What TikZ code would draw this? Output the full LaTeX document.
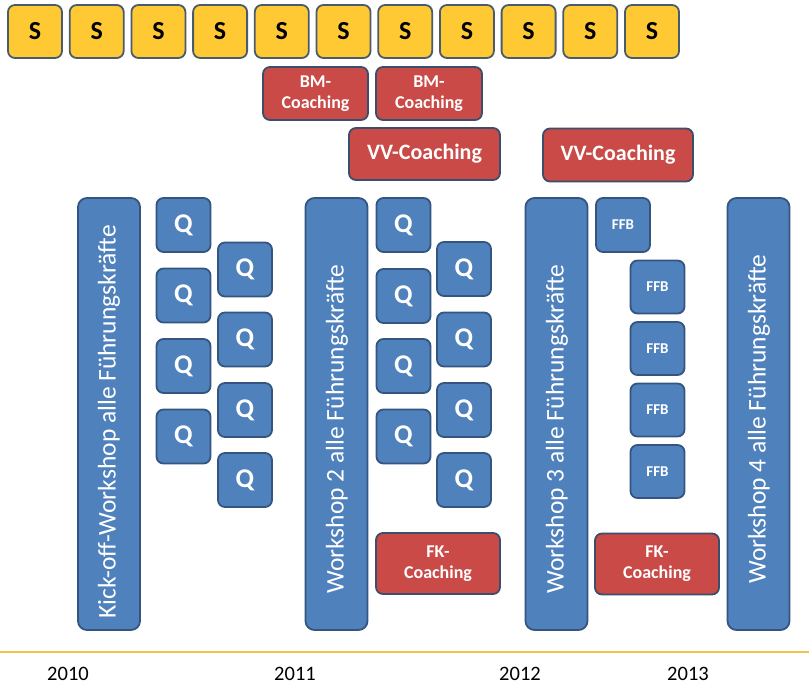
\documentclass[tikz,border=0pt]{standalone}
\usepackage{fontspec}
\setmainfont{Carlito}
\definecolor{sfill}{HTML}{FFC933}
\definecolor{sline}{HTML}{4A5B6C}
\definecolor{bfill}{HTML}{4F81BD}
\definecolor{bline}{HTML}{34557F}
\definecolor{rfill}{HTML}{C94A47}
\definecolor{rline}{HTML}{3B4E6B}
\definecolor{axis}{HTML}{F0C24E}
\tikzset{
  box/.style={rounded corners=7pt, line width=1.8pt, inner sep=0pt, align=center},
  sbox/.style={box, fill=sfill, draw=sline, minimum width=54pt, minimum height=53pt,
    font=\fontsize{26}{28}\selectfont\bfseries, text=black},
  qbox/.style={box, fill=bfill, draw=bline, minimum width=54pt, minimum height=54pt,
    font=\fontsize{27}{29}\selectfont\bfseries, text=white},
  fbox/.style={box, fill=bfill, draw=bline, minimum width=54pt, minimum height=54pt,
    font=\fontsize{15}{17}\selectfont\bfseries, text=white},
  wbox/.style={box, rounded corners=9pt, fill=bfill, draw=bline, minimum width=62pt, minimum height=432pt},
  wtext/.style={rotate=90, font=\fontsize{25.5}{27}\selectfont, text=white, inner sep=0pt},
  rbox/.style={box, fill=rfill, draw=rline, text=white,
    font=\fontsize{18}{21}\selectfont\bfseries},
  year/.style={font=\fontsize{20.5}{22}\selectfont, text=black, inner sep=0pt}
}
\begin{document}
\begin{tikzpicture}[x=1pt,y=-1pt]
\useasboundingbox (0,0) rectangle (809,685);
% S row
\foreach \i in {1,...,11}{
  \node[sbox] (s\i) at ({35+(\i-1)*61.7},31.5) {S};
}
% BM coaching
\node[rbox, minimum width=105pt, minimum height=53pt] (bm1) at (315.5,93.5) {BM-\\Coaching};
\node[rbox, minimum width=106pt, minimum height=53pt] (bm2) at (429,93.5) {BM-\\Coaching};
% VV coaching
\node[rbox, minimum width=151pt, minimum height=52pt, font=\fontsize{22}{24}\selectfont\bfseries] (vv1) at (424.5,154) {VV-Coaching};
\node[rbox, minimum width=150pt, minimum height=53pt, font=\fontsize{22}{24}\selectfont\bfseries] (vv2) at (618,155) {VV-Coaching};
% Workshops
\node[wbox] (w1) at (109,414) {};
\node[wtext] (w1t) at (109,422) {Kick-off-Workshop alle Führungskräfte};
\node[wbox] (w2) at (336.5,414) {};
\node[wtext] (w2t) at (337,429) {Workshop 2 alle Führungskräfte};
\node[wbox] (w3) at (556.5,414) {};
\node[wtext] (w3t) at (557,429) {Workshop 3 alle Führungskräfte};
\node[wbox] (w4) at (758.5,414) {};
\node[wtext] (w4t) at (759,419) {Workshop 4 alle Führungskräfte};
% Q group 1
\foreach \j/\y in {1/225,2/295.5,3/366,4/436.5}{
  \node[qbox] (qa\j) at (183.5,\y) {Q};
}
\foreach \j/\y in {1/269.5,2/339.5,3/410,4/480}{
  \node[qbox] (qb\j) at (245,\y) {Q};
}
% Q group 2
\foreach \j/\y in {1/225,2/296,3/366,4/436.5}{
  \node[qbox] (qc\j) at (403.5,\y) {Q};
}
\foreach \j/\y in {1/269,2/339.5,3/410,4/480}{
  \node[qbox] (qd\j) at (464,\y) {Q};
}
% FFB
\node[fbox] (f1) at (623,225) {FFB};
\foreach \j/\y in {2/287,3/348.5,4/410,5/471.5}{
  \node[fbox, minimum height=53pt] (f\j) at (657.5,\y) {FFB};
}
% FK coaching
\node[rbox, minimum width=124pt, minimum height=61pt] (fk1) at (438,563.5) {FK-\\Coaching};
\node[rbox, minimum width=124pt, minimum height=61pt] (fk2) at (657,564) {FK-\\Coaching};
% axis
\coordinate (al) at (0,652);
\coordinate (ar) at (809,652);
\draw[axis, line width=1.6pt] (al) -- (ar);
\node[year] (y1) at (68,674) {2010};
\node[year] (y2) at (295,674) {2011};
\node[year] (y3) at (520,674) {2012};
\node[year] (y4) at (688,674) {2013};
\end{tikzpicture}
\end{document}
